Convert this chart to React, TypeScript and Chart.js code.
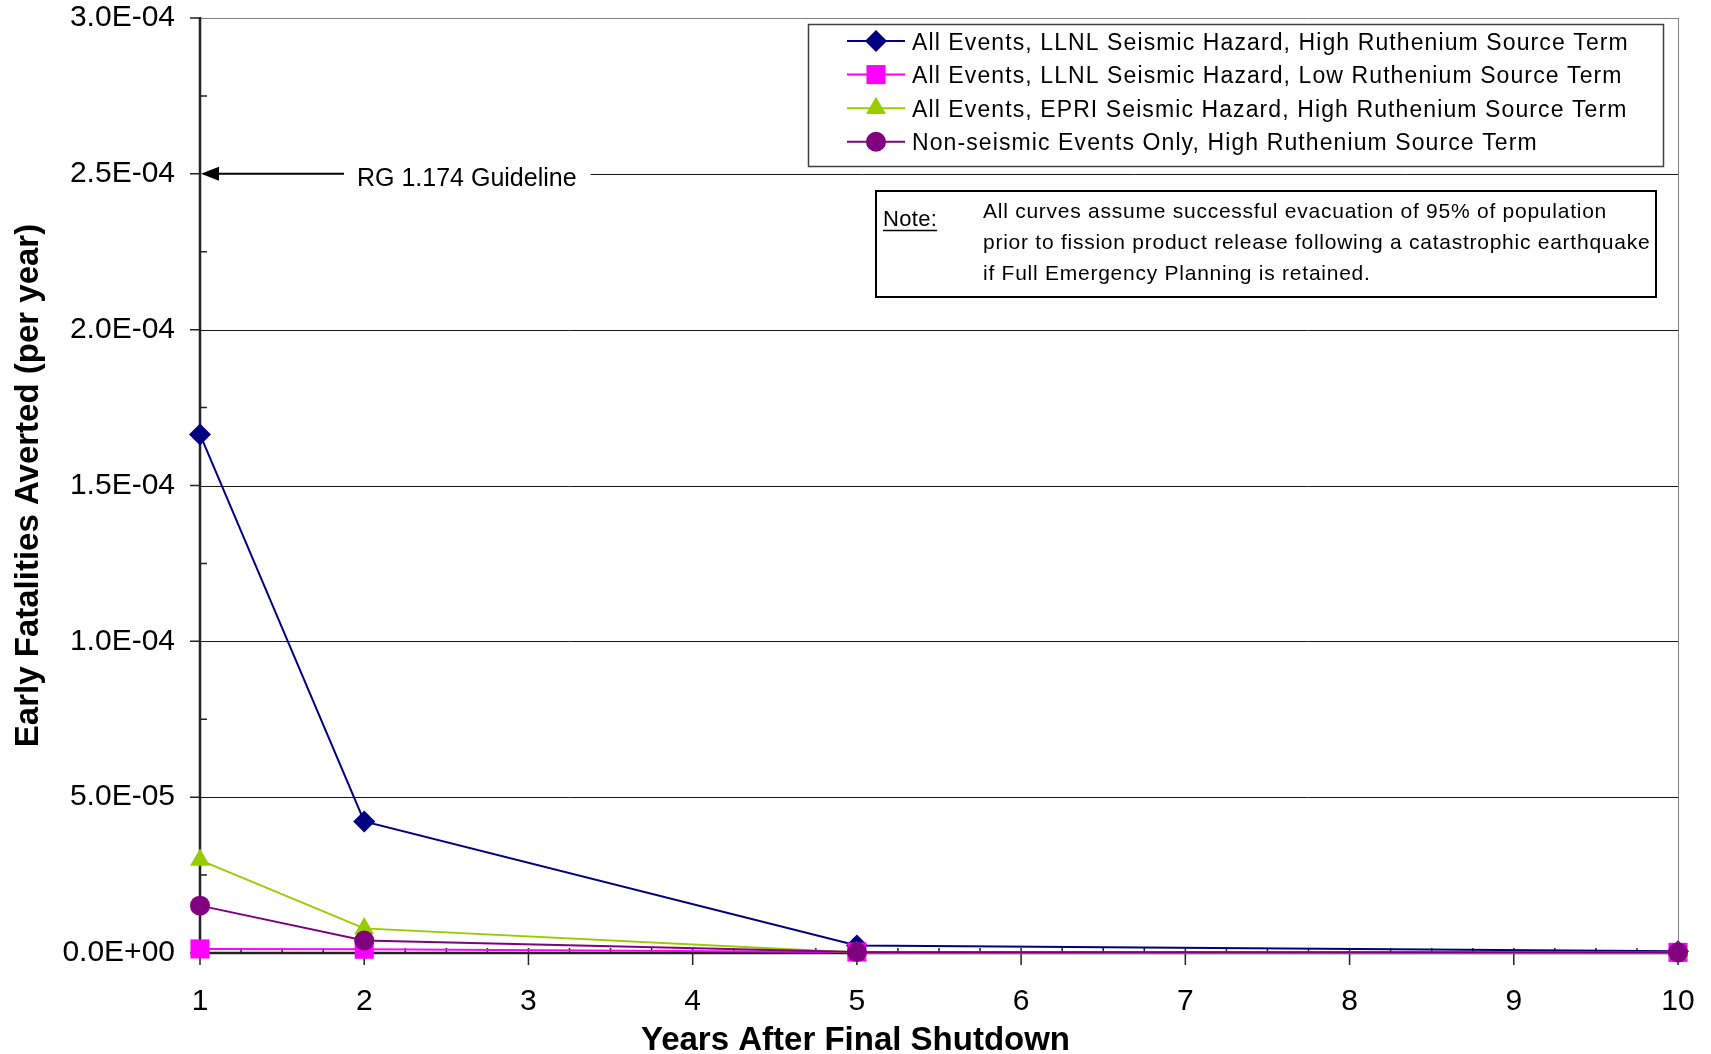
import React, { useEffect, useRef } from 'react';
import { Chart, registerables } from 'chart.js';

Chart.register(...registerables);

const FONT = "'Liberation Sans', Arial, Helvetica, sans-serif";

// ---------- data ----------
const years = [1, 2, 5, 10];
const seriesNames = [
  'All Events, LLNL Seismic Hazard, High Ruthenium Source Term',
  'All Events, LLNL Seismic Hazard, Low Ruthenium Source Term',
  'All Events, EPRI Seismic Hazard, High Ruthenium Source Term',
  'Non-seismic Events Only, High Ruthenium Source Term',
];
const llnlHigh = [1.664e-4, 4.22e-5, 2.4e-6, 6e-7];
const llnlLow = [1.3e-6, 1.2e-6, 3e-7, 2e-7];
const epriHigh = [2.98e-5, 7.9e-6, 2e-7, 1e-7];
const nonSeismic = [1.52e-5, 4.0e-6, 3e-7, 2e-7];
const seriesValues = [llnlHigh, llnlLow, epriHigh, nonSeismic];
const seriesColors = ['#000080', '#FF00FF', '#99CC00', '#800080'];
const seriesMarkers = ['rectRot', 'rect', 'triangle', 'circle'];
const markerRadius = [11, 13.5, 11.5, 10];

const xTickValues = [1, 2, 3, 4, 5, 6, 7, 8, 9, 10];
const yTickValues = [0, 0.00005, 0.0001, 0.00015, 0.0002, 0.00025, 0.0003];
const yMinorStep = 0.000025;
const xMinorStep = 0.25;

const guidelineValue = 0.00025;
const guidelineLabel = 'RG 1.174 Guideline';
const noteLabel = 'Note:';
const noteLines = [
  'All curves assume successful evacuation of 95% of population',
  'prior to fission product release following a catastrophic earthquake',
  'if Full Emergency Planning is retained.',
];
const xTitle = 'Years After Final Shutdown';
const yTitle = 'Early Fatalities Averted (per year)';

// ---------- helpers ----------
function fmtSci(v: number): string {
  if (Math.abs(v) < 1e-12) return '0.0E+00';
  const [m, e] = v.toExponential(1).split('e');
  const n = parseInt(e, 10);
  return m + 'E' + (n < 0 ? '-' : '+') + String(Math.abs(n)).padStart(2, '0');
}

function drawMarker(ctx: CanvasRenderingContext2D, style: string, x: number, y: number, r: number, color: string) {
  ctx.fillStyle = color;
  ctx.beginPath();
  if (style === 'rectRot') {
    ctx.moveTo(x, y - r);
    ctx.lineTo(x + r, y);
    ctx.lineTo(x, y + r);
    ctx.lineTo(x - r, y);
    ctx.closePath();
  } else if (style === 'rect') {
    const s = r * Math.SQRT1_2;
    ctx.rect(x - s, y - s, 2 * s, 2 * s);
  } else if (style === 'triangle') {
    const h = r * Math.sin(Math.PI / 3);
    ctx.moveTo(x, y - r);
    ctx.lineTo(x + h, y + r / 2);
    ctx.lineTo(x - h, y + r / 2);
    ctx.closePath();
  } else {
    ctx.arc(x, y, r, 0, Math.PI * 2);
  }
  ctx.fill();
}

const GUIDE_FONT = `25px ${FONT}`;

const decorPlugin = {
  id: 'decor',
  beforeDatasetsDraw(chart: any) {
    const { ctx, chartArea: a, scales } = chart;
    const xs = scales.x;
    const ys = scales.y;
    ctx.save();

    // guideline label metrics (for gap in gridline)
    ctx.font = GUIDE_FONT;
    const labelX = a.left + 157;
    const gapEnd = labelX + ctx.measureText(guidelineLabel).width + 14;

    // horizontal gridlines
    ctx.lineWidth = 1;
    for (const v of yTickValues) {
      if (v === 0) continue;
      const py = Math.round(ys.getPixelForValue(v)) + 0.5;
      ctx.strokeStyle = v === yTickValues[yTickValues.length - 1] ? '#808080' : '#1a1a1a';
      ctx.beginPath();
      if (Math.abs(v - guidelineValue) < 1e-12) {
        ctx.moveTo(gapEnd, py);
      } else {
        ctx.moveTo(a.left, py);
      }
      ctx.lineTo(a.right, py);
      ctx.stroke();
    }

    // right border of plot area
    ctx.strokeStyle = '#808080';
    ctx.beginPath();
    ctx.moveTo(Math.round(a.right) + 0.5, a.top);
    ctx.lineTo(Math.round(a.right) + 0.5, a.bottom);
    ctx.stroke();

    // axes
    ctx.strokeStyle = '#222';
    ctx.lineWidth = 2.5;
    ctx.beginPath();
    ctx.moveTo(a.left, a.top - 1);
    ctx.lineTo(a.left, a.bottom + 1);
    ctx.moveTo(a.left - 1, a.bottom);
    ctx.lineTo(a.right, a.bottom);
    ctx.stroke();

    // y ticks
    ctx.lineWidth = 1.5;
    ctx.beginPath();
    for (const v of yTickValues) {
      const py = ys.getPixelForValue(v);
      ctx.moveTo(a.left - 10, py);
      ctx.lineTo(a.left, py);
    }
    const yMax = yTickValues[yTickValues.length - 1];
    for (let k = 1; yMinorStep * k < yMax; k += 2) {
      const py = ys.getPixelForValue(yMinorStep * k);
      ctx.moveTo(a.left, py);
      ctx.lineTo(a.left + 7, py);
    }
    // x ticks
    for (const v of xTickValues) {
      const px = xs.getPixelForValue(v);
      ctx.moveTo(px, a.bottom - 5);
      ctx.lineTo(px, a.bottom + 12);
    }
    const x0 = xTickValues[0];
    const x1 = xTickValues[xTickValues.length - 1];
    for (let v = x0 + xMinorStep; v < x1; v += xMinorStep) {
      if (Math.abs(v - Math.round(v)) < 1e-9) continue;
      const px = xs.getPixelForValue(v);
      ctx.moveTo(px, a.bottom - 5);
      ctx.lineTo(px, a.bottom);
    }
    ctx.stroke();
    ctx.restore();
  },
  afterDraw(chart: any) {
    const { ctx, chartArea: a, scales } = chart;
    const ys = scales.y;
    ctx.save();

    // guideline arrow + label
    const gy = ys.getPixelForValue(guidelineValue);
    ctx.font = GUIDE_FONT;
    const labelX = a.left + 157;
    ctx.strokeStyle = '#000';
    ctx.fillStyle = '#000';
    ctx.lineWidth = 2;
    ctx.beginPath();
    ctx.moveTo(labelX - 13, gy);
    ctx.lineTo(a.left + 16, gy);
    ctx.stroke();
    ctx.beginPath();
    ctx.moveTo(a.left + 1, gy);
    ctx.lineTo(a.left + 19, gy - 7);
    ctx.lineTo(a.left + 19, gy + 7);
    ctx.closePath();
    ctx.fill();
    ctx.textBaseline = 'alphabetic';
    ctx.textAlign = 'left';
    ctx.fillText(guidelineLabel, labelX, gy + 12);

    // legend box
    const lx = 808, ly = 24, lw = 855, lh = 142;
    ctx.fillStyle = '#fff';
    ctx.fillRect(lx, ly, lw, lh);
    ctx.strokeStyle = '#404040';
    ctx.lineWidth = 1.5;
    ctx.strokeRect(lx + 0.5, ly + 0.5, lw, lh);
    ctx.font = `23px ${FONT}`;
    (ctx as any).letterSpacing = '1.1px';
    for (let i = 0; i < seriesNames.length; i++) {
      const cy = 41 + i * 33.6;
      ctx.strokeStyle = seriesColors[i];
      ctx.lineWidth = 2;
      ctx.beginPath();
      ctx.moveTo(lx + 39, cy);
      ctx.lineTo(lx + 97, cy);
      ctx.stroke();
      drawMarker(ctx, seriesMarkers[i], lx + 68, cy, markerRadius[i], seriesColors[i]);
      ctx.fillStyle = '#000';
      ctx.fillText(seriesNames[i], lx + 104, cy + 8.5);
    }

    // note box
    const nx = 876, ny = 191, nw = 780, nh = 106;
    ctx.fillStyle = '#fff';
    ctx.fillRect(nx, ny, nw, nh);
    ctx.strokeStyle = '#000';
    ctx.lineWidth = 2;
    ctx.strokeRect(nx, ny, nw, nh);
    ctx.fillStyle = '#000';
    ctx.font = `22px ${FONT}`;
    (ctx as any).letterSpacing = '0.3px';
    ctx.fillText(noteLabel, nx + 7, ny + 35);
    const nwid = ctx.measureText(noteLabel).width;
    ctx.lineWidth = 1.5;
    ctx.beginPath();
    ctx.moveTo(nx + 7, ny + 39.5);
    ctx.lineTo(nx + 7 + nwid, ny + 39.5);
    ctx.stroke();
    ctx.font = `21px ${FONT}`;
    (ctx as any).letterSpacing = '0.75px';
    for (let i = 0; i < noteLines.length; i++) {
      ctx.fillText(noteLines[i], nx + 107, ny + 27 + i * 31);
    }
    (ctx as any).letterSpacing = '0px';

    // x title centred on canvas
    ctx.font = `bold 33px ${FONT}`;
    ctx.textAlign = 'center';
    ctx.fillText(xTitle, chart.width / 2, 1050);
    ctx.restore();
  },
};

export default function App() {
  const ref = useRef<HTMLCanvasElement>(null);
  useEffect(() => {
    document.body.style.margin = '0';
    const datasets = seriesValues.map((vals, i) => ({
      label: seriesNames[i],
      data: years.map((x, j) => ({ x, y: vals[j] })),
      borderColor: seriesColors[i],
      backgroundColor: seriesColors[i],
      pointBackgroundColor: seriesColors[i],
      pointBorderColor: seriesColors[i],
      pointBorderWidth: 0,
      pointStyle: seriesMarkers[i],
      pointRadius: markerRadius[i],
      borderWidth: 2,
      tension: 0,
      clip: false,
      order: seriesNames.length - 1 - i,
    }));
    const chart = new Chart(ref.current!, {
      type: 'line',
      data: { datasets } as any,
      plugins: [decorPlugin],
      options: {
        animation: false,
        responsive: false,
        maintainAspectRatio: false,
        events: [],
        layout: { padding: { top: 18, right: 33, left: 0, bottom: 0 } },
        plugins: { legend: { display: false }, tooltip: { enabled: false } },
        scales: {
          x: {
            type: 'linear',
            min: 1,
            max: 10,
            grid: { display: false },
            border: { display: false },
            afterBuildTicks: (s: any) => {
              s.ticks = xTickValues.map((v) => ({ value: v }));
            },
            afterFit: (s: any) => {
              s.height = 101;
              s.paddingLeft = 0;
              s.paddingRight = 0;
            },
            ticks: {
              color: '#000',
              font: { family: FONT, size: 30 },
              padding: 23,
              maxRotation: 0,
              autoSkip: false,
              callback: (v: any) => String(v),
            },
          },
          y: {
            type: 'linear',
            min: 0,
            max: 0.0003,
            grid: { display: false },
            border: { display: false },
            afterBuildTicks: (s: any) => {
              s.ticks = yTickValues.map((v) => ({ value: v }));
            },
            afterFit: (s: any) => {
              s.width = 200;
              s.paddingTop = 0;
              s.paddingBottom = 0;
            },
            ticks: {
              color: '#000',
              font: { family: FONT, size: 30 },
              padding: 17,
              autoSkip: false,
              callback: (v: any) => fmtSci(Number(v)),
            },
            title: {
              display: true,
              text: yTitle,
              color: '#000',
              font: { family: FONT, size: 33, weight: 'bold' },
              padding: { top: 9, bottom: 0 },
            },
          },
        },
      } as any,
    });
    return () => chart.destroy();
  }, []);
  return (
    <div style={{ width: 1711, height: 1054, background: '#fff' }}>
      <canvas ref={ref} width={1711} height={1054} style={{ display: 'block' }} />
    </div>
  );
}
